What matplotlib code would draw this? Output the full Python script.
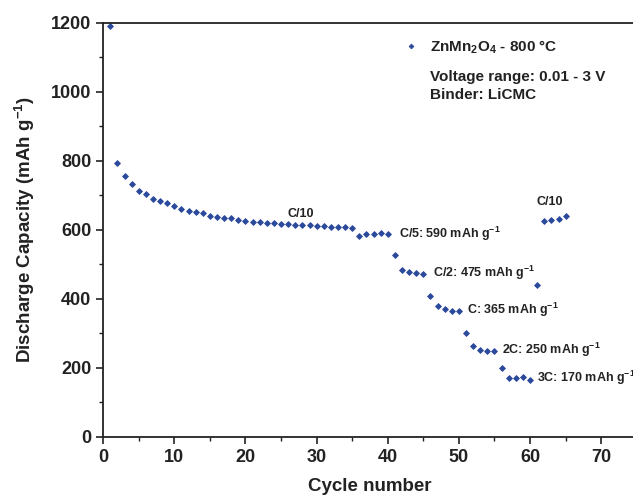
import numpy as np
import matplotlib as mpl
mpl.use('Agg')
import matplotlib.pyplot as plt
from matplotlib.ticker import MultipleLocator

mpl.rcParams['font.family'] = ['Liberation Sans', 'DejaVu Sans']
mpl.rcParams['font.weight'] = 'bold'
mpl.rcParams['mathtext.fontset'] = 'custom'
mpl.rcParams['mathtext.rm'] = 'Liberation Sans'
mpl.rcParams['mathtext.bf'] = 'Liberation Sans:bold'

cycles = np.arange(1, 66)
capacity = [1190, 795, 756, 732, 712, 703, 689, 683, 677, 670,
            662, 656, 652, 648, 641, 638, 635, 634, 628, 626,
            624, 622, 621, 619, 618, 617, 615, 614, 613, 612,
            611, 610, 609, 608, 607, 582, 588, 589, 590, 589,
            527, 484, 479, 476, 473, 408, 379, 372, 364, 364,
            300, 263, 253, 250, 250, 200, 171, 171, 175, 166,
            440, 627, 629, 631, 640]

sup = "$^{\\mathbf{-1}}$"
rate_labels = ["C/5: 590 mAh g" + sup, "C/2: 475 mAh g" + sup,
               "C: 365 mAh g" + sup, "2C: 250 mAh g" + sup,
               "3C: 170 mAh g" + sup]
rate_x = [41.6, 46.4, 51.1, 56.0, 61.0]
rate_y = [588, 475, 368, 252, 171]

blue = '#2c4a9c'
txt = '#222222'

fig = plt.figure(figsize=(6.33, 4.98), dpi=100)
ax = fig.add_axes([0.163, 0.1225, 0.843, 0.8315])

ax.plot(cycles, capacity, linestyle='none', marker='D', markersize=3.0,
        markeredgewidth=0.6, color=blue,
        label='ZnMn$_\\mathbf{2}$O$_\\mathbf{4}$ - 800 °C')

ax.set_xlim(0, 75)
ax.set_ylim(0, 1200)
ax.xaxis.set_major_locator(MultipleLocator(10))
ax.xaxis.set_minor_locator(MultipleLocator(5))
ax.yaxis.set_major_locator(MultipleLocator(200))
ax.yaxis.set_minor_locator(MultipleLocator(100))
ax.tick_params(which='major', direction='out', length=5, width=1.2, labelsize=13,
               top=False, right=False, colors=txt)
ax.tick_params(which='minor', direction='out', length=3, width=1.0,
               top=False, right=False, colors=txt)
for sp in ax.spines.values():
    sp.set_linewidth(1.3)
    sp.set_color(txt)

ax.set_xlabel('Cycle number', fontsize=13.5, fontweight='bold', labelpad=9, color=txt)
ax.set_ylabel('Discharge Capacity (mAh g' + sup + ')', fontsize=13.5,
              fontweight='bold', labelpad=10, color=txt)

ax.text(27.7, 646, 'C/10', fontsize=9, ha='center', va='center', fontweight='bold', color=txt)
ax.text(62.8, 681, 'C/10', fontsize=9, ha='center', va='center', fontweight='bold', color=txt)
for t, x, y in zip(rate_labels, rate_x, rate_y):
    ax.text(x, y, t, fontsize=9, ha='left', va='center', fontweight='bold', color=txt)

leg = fig.legend(loc='center left', bbox_to_anchor=(403.5 / 633, 1 - 47 / 498),
                 frameon=False, fontsize=11, handlelength=1.0, handletextpad=0.75,
                 borderpad=0, borderaxespad=0, markerscale=0.8)
for t in leg.get_texts():
    t.set_color(txt)
fig.text(430 / 633, 1 - 77 / 498, 'Voltage range: 0.01 - 3 V', fontsize=11,
         fontweight='bold', va='center', ha='left', color=txt)
fig.text(430 / 633, 1 - 95 / 498, 'Binder: LiCMC', fontsize=11,
         fontweight='bold', va='center', ha='left', color=txt)

fig.savefig('out.png', dpi=100)
